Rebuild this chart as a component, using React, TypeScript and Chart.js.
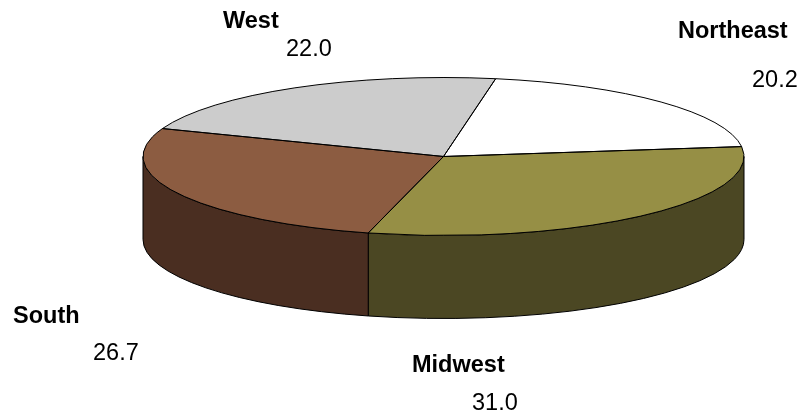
import React, { useEffect, useRef } from "react";
import { Chart, registerables } from "chart.js";

Chart.register(...registerables);

const regions = ["Northeast", "Midwest", "South", "West"];
const shares = [20.2, 31.0, 26.7, 22.0];
const topColors = ["#ffffff", "#968f45", "#8c5c41", "#cccccc"];
const wallColors = ["#7f7f7f", "#4b4723", "#4a2e21", "#666666"];

const TILT = 79 / 300.5;
const DEPTH = 83;
const FONT_FAMILY = '"Liberation Sans", Arial, sans-serif';
const FONT_SIZE = 23.5;

// Left edge and baseline of each region's name and of its value.
const captionPlacement = [
  { name: [678, 38], value: [752, 87] },
  { name: [412, 372], value: [472, 410] },
  { name: [13, 323], value: [93, 360] },
  { name: [223, 28], value: [286, 56] },
];

const TWO_PI = Math.PI * 2;

// Canvas angles below the horizontal are the only ones with a visible side wall.
function frontSpan(start: number, end: number) {
  for (const shift of [0, TWO_PI, -TWO_PI]) {
    const a = Math.max(start + shift, 0);
    const b = Math.min(end + shift, Math.PI);
    if (b > a) return [a, b];
  }
  return null;
}

const tiltedPie = {
  id: "tiltedPie",
  beforeDatasetsDraw(chart: any) {
    const { ctx } = chart;
    const arcs = chart.getDatasetMeta(0).data;
    ctx.save();
    ctx.lineWidth = 1;
    ctx.strokeStyle = "#000000";
    arcs.forEach((arc: any, i: number) => {
      const span = frontSpan(arc.startAngle, arc.endAngle);
      if (!span) return;
      const rx = arc.outerRadius;
      const ry = rx * TILT;
      ctx.beginPath();
      ctx.ellipse(arc.x, arc.y, rx, ry, 0, span[0], span[1]);
      ctx.ellipse(arc.x, arc.y + DEPTH, rx, ry, 0, span[1], span[0], true);
      ctx.closePath();
      ctx.fillStyle = wallColors[i];
      ctx.fill();
      ctx.stroke();
    });
    ctx.restore();

    // The library's arcs are squashed into the top face of the disc.
    const first = arcs[0];
    ctx.save();
    ctx.translate(0, first.y);
    ctx.scale(1, TILT);
    ctx.translate(0, -first.y);
  },
  afterDatasetsDraw(chart: any) {
    const { ctx } = chart;
    ctx.restore();
    const arcs = chart.getDatasetMeta(0).data;

    ctx.save();
    ctx.lineWidth = 1;
    ctx.strokeStyle = "#000000";
    arcs.forEach((arc: any) => {
      const rx = arc.outerRadius;
      ctx.beginPath();
      ctx.moveTo(arc.x, arc.y);
      ctx.ellipse(arc.x, arc.y, rx, rx * TILT, 0, arc.startAngle, arc.endAngle);
      ctx.closePath();
      ctx.stroke();
    });

    ctx.fillStyle = "#000000";
    ctx.textAlign = "left";
    ctx.textBaseline = "alphabetic";
    regions.forEach((region, i) => {
      const spot = captionPlacement[i];
      ctx.font = `bold ${FONT_SIZE}px ${FONT_FAMILY}`;
      ctx.fillText(region, spot.name[0], spot.name[1]);
      ctx.font = `${FONT_SIZE}px ${FONT_FAMILY}`;
      ctx.fillText(shares[i].toFixed(1), spot.value[0], spot.value[1]);
    });
    ctx.restore();
  },
};

export default function App() {
  const canvasRef = useRef<HTMLCanvasElement>(null);

  useEffect(() => {
    document.body.style.margin = "0";
    const chart = new Chart(canvasRef.current!, {
      type: "pie",
      data: {
        labels: regions,
        datasets: [
          {
            data: shares,
            backgroundColor: topColors,
            borderWidth: 0,
            clip: false,
          } as any,
        ],
      },
      options: {
        responsive: false,
        animation: false,
        rotation: 10,
        radius: 300.5,
        layout: { padding: { left: 81, bottom: 102 } },
        plugins: {
          legend: { display: false },
          title: { display: false },
          tooltip: { enabled: false },
        },
      },
      plugins: [tiltedPie],
    });
    return () => chart.destroy();
  }, []);

  return (
    <canvas
      ref={canvasRef}
      width={806}
      height={415}
      style={{ display: "block", background: "#ffffff" }}
    />
  );
}
